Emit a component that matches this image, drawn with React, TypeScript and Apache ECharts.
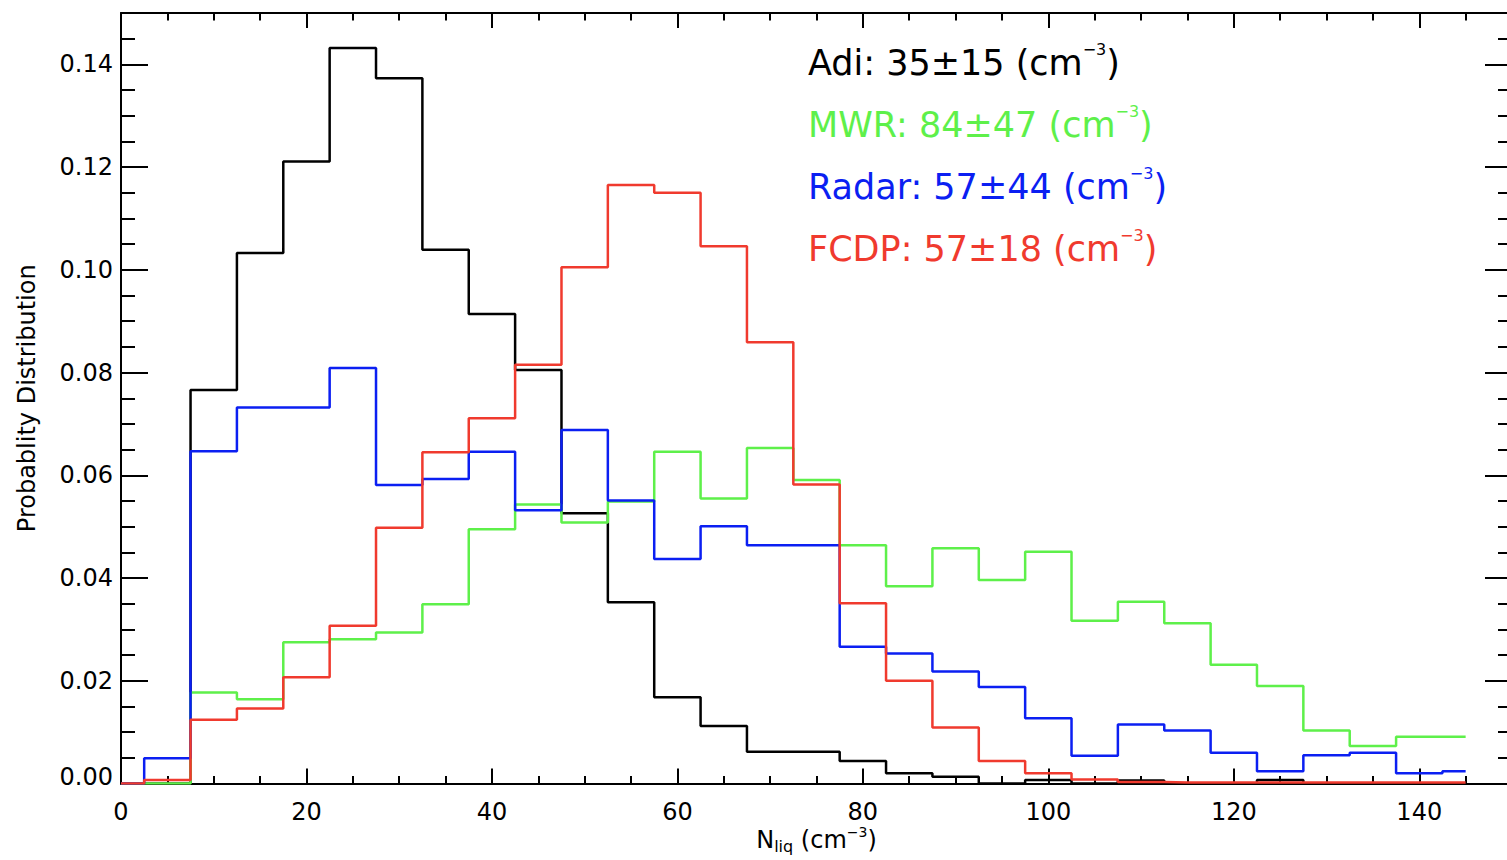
import React, { useEffect, useRef } from 'react';
import * as echarts from 'echarts';

// Histogram bin centres (cm^-3)
const binCenters = [0, 5, 10, 15, 20, 25, 30, 35, 40, 45, 50, 55, 60, 65, 70, 75, 80, 85, 90, 95, 100, 105, 110, 115, 120, 125, 130, 135, 140, 145];

const adiValues = [0, 0, 0.0766, 0.1033, 0.1211, 0.1432, 0.1373, 0.1039, 0.0914, 0.0805, 0.0526, 0.0353, 0.0168, 0.0112, 0.0062, 0.0062, 0.0044, 0.002, 0.0013, 0, 0.0007, 0, 0.0006, 0, 0, 0.0007, 0, 0, 0, 0];
const mwrValues = [0, 0, 0.0177, 0.0164, 0.0275, 0.0281, 0.0294, 0.0349, 0.0495, 0.0543, 0.0508, 0.0549, 0.0646, 0.0555, 0.0653, 0.0591, 0.0464, 0.0384, 0.0458, 0.0396, 0.0451, 0.0317, 0.0354, 0.0312, 0.0231, 0.019, 0.0103, 0.0073, 0.0091, 0.0091];
const radarValues = [0, 0.0049, 0.0647, 0.0732, 0.0732, 0.0809, 0.0581, 0.0593, 0.0646, 0.0532, 0.0688, 0.0551, 0.0437, 0.0501, 0.0464, 0.0464, 0.0266, 0.0253, 0.0218, 0.0188, 0.0127, 0.0054, 0.0115, 0.0103, 0.006, 0.0024, 0.0055, 0.006, 0.002, 0.0024];
const fcdpValues = [0, 0.0007, 0.0124, 0.0146, 0.0207, 0.0307, 0.0498, 0.0645, 0.0711, 0.0815, 0.1005, 0.1165, 0.115, 0.1046, 0.0859, 0.0582, 0.0351, 0.02, 0.0109, 0.0044, 0.002, 0.0008, 0.0003, 0.0002, 0.0002, 0.0002, 0.0002, 0.0002, 0.0002, 0.0002];

const seriesNames = ['Adi', 'MWR', 'Radar', 'FCDP'];
const seriesColors = ['#000000', '#5ef04a', '#0b1ff2', '#f03a2e'];
const legendTexts = ['Adi: 35±15 (cm', 'MWR: 84±47 (cm', 'Radar: 57±44 (cm', 'FCDP: 57±18 (cm'];

const FONT = 'DejaVu Sans';

export default function App() {
  const ref = useRef<HTMLDivElement>(null);

  useEffect(() => {
    const chart = echarts.init(ref.current as HTMLDivElement, null, { renderer: 'svg' });
    const allValues = [adiValues, mwrValues, radarValues, fcdpValues];

    const line = { show: true, onZero: false, lineStyle: { color: '#000', width: 2 } };
    const noLine = { show: false, onZero: false };
    const tick = (len: number) => ({ show: true, inside: true, length: len, lineStyle: { color: '#000', width: 2 } });
    const off = { show: false };

    const xBase = { type: 'value', min: 0, max: 150, splitLine: off, minorTick: off };
    const yBase = { type: 'value', min: 0, max: 0.15, splitLine: off, minorTick: off };

    chart.setOption({
      animation: false,
      backgroundColor: '#ffffff',
      grid: { left: 121, right: -5, top: 13, bottom: 76.5, containLabel: false, outerBoundsMode: 'none' },
      xAxis: [
        {
          ...xBase,
          position: 'bottom',
          interval: 20,
          axisLine: line,
          axisTick: tick(15),
          axisLabel: {
            show: true,
            margin: 16,
            fontSize: 24,
            fontFamily: FONT,
            color: '#000',
            showMaxLabel: false,
            formatter: (v: number) => String(Math.round(v)),
          },
          name: '{n|N}{sub|liq}{n| (cm}{sup|−3}{n|)}',
          nameLocation: 'middle',
          nameGap: 41,
          nameMoveOverlap: false,
          nameTextStyle: {
            color: '#000',
            fontFamily: FONT,
            fontSize: 24,
            rich: {
              n: { fontSize: 24, lineHeight: 30, fontFamily: FONT, color: '#000' },
              sub: { fontSize: 16, lineHeight: 18, verticalAlign: 'bottom', fontFamily: FONT, color: '#000' },
              sup: { fontSize: 14, lineHeight: 22, verticalAlign: 'top', fontFamily: FONT, color: '#000' },
            },
          },
        },
        { ...xBase, position: 'bottom', interval: 5, axisLine: noLine, axisTick: tick(7.5), axisLabel: off },
        { ...xBase, position: 'top', interval: 20, axisLine: line, axisTick: tick(15), axisLabel: off },
        { ...xBase, position: 'top', interval: 5, axisLine: noLine, axisTick: tick(7.5), axisLabel: off },
      ],
      yAxis: [
        {
          ...yBase,
          position: 'left',
          interval: 0.02,
          axisLine: line,
          axisTick: tick(27),
          axisLabel: {
            show: true,
            margin: 8,
            fontSize: 24,
            fontFamily: FONT,
            color: '#000',
            showMaxLabel: false,
            formatter: (v: number) => (v === 0 ? '{low|0.00}' : v.toFixed(2)),
            rich: {
              low: { fontSize: 24, fontFamily: FONT, color: '#000', padding: [0, 0, 14, 0] },
            },
          },
          name: 'Probablity Distribution',
          nameLocation: 'middle',
          nameRotate: 90,
          nameGap: 82,
          nameMoveOverlap: false,
          nameTextStyle: { color: '#000', fontFamily: FONT, fontSize: 24 },
        },
        { ...yBase, position: 'left', interval: 0.005, axisLine: noLine, axisTick: tick(14), axisLabel: off },
        { ...yBase, position: 'right', interval: 0.02, axisLine: line, axisTick: tick(27), axisLabel: off },
        { ...yBase, position: 'right', interval: 0.005, axisLine: noLine, axisTick: tick(14), axisLabel: off },
      ],
      series: allValues.map((vals, i) => ({
        name: seriesNames[i],
        type: 'line',
        step: 'middle',
        xAxisIndex: 0,
        yAxisIndex: 0,
        showSymbol: false,
        symbol: 'none',
        clip: true,
        data: binCenters.map((x, j) => [x, vals[j]]),
        lineStyle: { color: seriesColors[i], width: 2.5 },
        itemStyle: { color: seriesColors[i] },
        z: 3 + i,
      })),
      graphic: legendTexts.map((t, i) => ({
        type: 'text',
        left: 808,
        top: 41 + i * 62,
        z: 10,
        style: {
          text: `{n|${t}}{sup|−3}{n|)}`,
          fill: seriesColors[i],
          align: 'left',
          verticalAlign: 'top',
          rich: {
            n: { fontSize: 35, lineHeight: 44, fontFamily: FONT, fill: seriesColors[i] },
            sup: { fontSize: 16, lineHeight: 29, verticalAlign: 'top', fontFamily: FONT, fill: seriesColors[i] },
          },
        },
      })),
    });

    return () => chart.dispose();
  }, []);

  return (
    <div
      ref={ref}
      style={{ position: 'absolute', left: 0, top: 0, width: 1507, height: 860, background: '#fff' }}
    />
  );
}
